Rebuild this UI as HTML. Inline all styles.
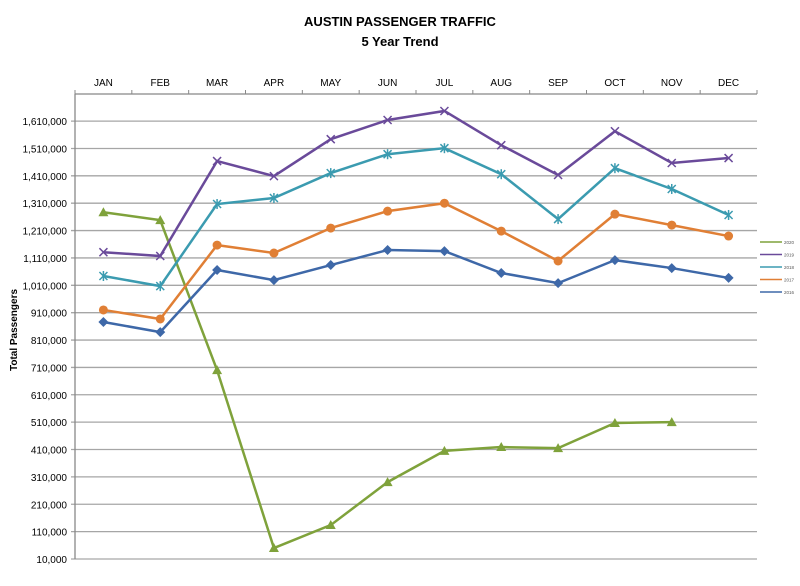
<!DOCTYPE html>
<html><head><meta charset="utf-8"><style>
body{margin:0;background:#fff;font-family:"Liberation Sans",sans-serif}
svg text{font-family:"Liberation Sans",sans-serif}
</style></head><body>
<svg id="c" width="800" height="581">
<text x="400" y="26" text-anchor="middle" font-size="13" font-weight="bold">AUSTIN PASSENGER TRAFFIC</text>
<text x="400" y="46" text-anchor="middle" font-size="13" font-weight="bold">5 Year Trend</text>
<text transform="translate(17,330) rotate(-90)" text-anchor="middle" font-size="10" font-weight="bold">Total Passengers</text>
<g id="grid"></g><g id="series"></g><g id="legend"></g>
</svg>
<script>
const months=["JAN","FEB","MAR","APR","MAY","JUN","JUL","AUG","SEP","OCT","NOV","DEC"];
const yTicks=[10000,110000,210000,310000,410000,510000,610000,710000,810000,910000,1010000,1110000,1210000,1310000,1410000,1510000,1610000];
const s2020=[1277000,1248000,700000,50000,134000,291000,405000,419000,415000,507000,510000];
const s2019=[1131000,1117000,1464000,1409000,1544000,1614000,1647000,1522000,1413000,1573000,1457000,1475000];
const s2018=[1044000,1007000,1307000,1329000,1420000,1489000,1511000,1416000,1252000,1438000,1362000,1267000];
const s2017=[920000,887000,1157000,1128000,1219000,1281000,1310000,1208000,1099000,1270000,1230000,1190000];
const s2016=[876000,839000,1066000,1029000,1084000,1139000,1135000,1055000,1018000,1102000,1073000,1037000];
const seriesNames=["2020","2019","2018","2017","2016"];
const L=75,R=757,T=94,B=559,vMin=10000,vMax=1709000;
const ns="http://www.w3.org/2000/svg";
const cw=(R-L)/months.length;
const x=i=>L+cw*(i+0.5);
const y=v=>B-(v-vMin)/(vMax-vMin)*(B-T);
function mk(t,a,p){const e=document.createElementNS(ns,t);for(const k in a)e.setAttribute(k,a[k]);p.appendChild(e);return e;}
const g=document.getElementById('grid');
yTicks.forEach(v=>{
 const l=mk('line',{x1:L-4,x2:R,y1:y(v),y2:y(v),stroke:'#a6a6a6','stroke-width':1.3},g);
 
 
 const t=mk('text',{x:L-8,y:y(v)+4,'text-anchor':'end','font-size':10},g);
 t.textContent=v.toLocaleString('en-US');
 
 
});
const ax=mk('line',{x1:L,x2:L,y1:T,y2:B,stroke:'#888','stroke-width':1.3},g);


const tx=mk('line',{x1:L,x2:R,y1:T,y2:T,stroke:'#888','stroke-width':1.3},g);


months.forEach((m,i)=>{
 mk('line',{x1:L+cw*i,x2:L+cw*i,y1:T-4,y2:T,stroke:'#888'},g);
 const t=mk('text',{x:x(i),y:86,'text-anchor':'middle','font-size':10},g);
 t.textContent=m;
 
 
});
mk('line',{x1:R,x2:R,y1:T-4,y2:T,stroke:'#888'},g);
const colors=["#7fa23b","#6a4a9a","#3b9bb0","#e07f35","#3e68a8"];
const data=[s2020,s2019,s2018,s2017,s2016];
const markers=["tri","x","star","circle","diamond"];
const sg=document.getElementById('series');
function marker(type,cx,cy,c,p){
 if(type==="tri")return mk('polygon',{points:`${cx},${cy-5} ${cx-5},${cy+4} ${cx+5},${cy+4}`,fill:c},p);
 if(type==="circle")return mk('circle',{cx,cy,r:4.5,fill:c},p);
 if(type==="diamond")return mk('polygon',{points:`${cx},${cy-5} ${cx+5},${cy} ${cx},${cy+5} ${cx-5},${cy}`,fill:c},p);
 const gg=mk('g',{stroke:c,'stroke-width':1.5},p);
 mk('line',{x1:cx-4,y1:cy-4,x2:cx+4,y2:cy+4},gg);mk('line',{x1:cx-4,y1:cy+4,x2:cx+4,y2:cy-4},gg);
 if(type==="star")mk('line',{x1:cx,y1:cy-5,x2:cx,y2:cy+5},gg);
 return gg;
}
data.forEach((d,si)=>{
 const grp=mk('g',{},sg);
 
 
 const pl=mk('polyline',{points:d.map((v,i)=>x(i)+','+y(v)).join(' '),fill:'none',stroke:colors[si],'stroke-width':2.5},grp);
 
 
 d.forEach((v,i)=>{const m=marker(markers[si],x(i),y(v),colors[si],grp);
  
  });
});
const lg=document.getElementById('legend');
seriesNames.forEach((n,i)=>{
 const yy=242+i*12.5;
 const e=mk('g',{},lg);
 
 
 mk('line',{x1:760,x2:782,y1:yy,y2:yy,stroke:colors[i],'stroke-width':1.5},e);
 const t=mk('text',{x:784,y:yy+2,'font-size':4.5,fill:'#555'},e);t.textContent=n;
});
</script>
</body></html>
